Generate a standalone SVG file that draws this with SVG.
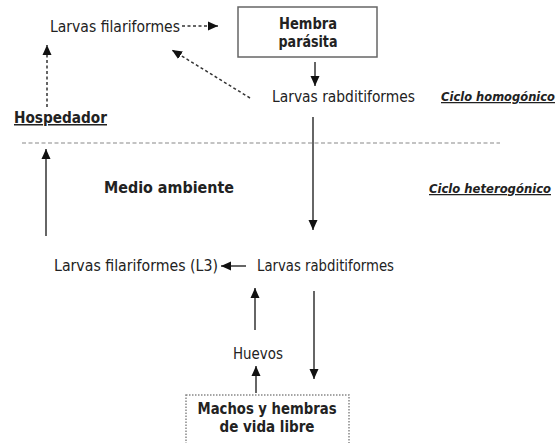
<svg xmlns="http://www.w3.org/2000/svg" width="560" height="443" viewBox="0 0 560 443">
  <style>
    .t { font-family: "DejaVu Sans Condensed", "DejaVu Sans", sans-serif; font-size: 15.5px; fill: #222; }
    .b { font-weight: bold; font-size: 15px; }
    .c { font-family: "DejaVu Sans Condensed", "DejaVu Sans", sans-serif; font-size: 12.5px; font-weight: bold; font-style: italic; fill: #222; text-decoration: underline; }
    .u { text-decoration: underline; }
    .solid { stroke: #333; stroke-width: 1.5; fill: none; }
    .dash { stroke: #333; stroke-width: 1.5; stroke-dasharray: 3 2.5; fill: none; }
    .sep { stroke: #888; stroke-width: 1.2; stroke-dasharray: 4 2.5; fill: none; }
  </style>
  <defs>
    <marker id="arrow" markerUnits="userSpaceOnUse" markerWidth="10" markerHeight="10" refX="10" refY="5" orient="auto">
      <path d="M0,0.5 L10,5 L0,9.5 z" fill="#111"/>
    </marker>
  </defs>

  <rect width="560" height="443" fill="#fff"/>

  <!-- host / environment separator -->
  <line class="sep" x1="22" y1="143" x2="500" y2="143"/>

  <!-- section labels -->
  <text class="t b u" x="14" y="123" textLength="93" lengthAdjust="spacingAndGlyphs">Hospedador</text>
  <text class="c" x="441" y="101" textLength="114" lengthAdjust="spacingAndGlyphs">Ciclo homogónico</text>
  <text class="t b" x="104" y="193" textLength="130" lengthAdjust="spacingAndGlyphs">Medio  ambiente</text>
  <text class="c" x="429" y="193" textLength="122" lengthAdjust="spacingAndGlyphs">Ciclo  heterogónico</text>

  <!-- nodes -->
  <g id="larvas-filariformes-host">
    <text class="t" x="50" y="32" textLength="130" lengthAdjust="spacingAndGlyphs">Larvas  filariformes</text>
  </g>
  <g id="hembra-parasita">
    <rect x="238" y="7" width="139" height="50" fill="#fff" stroke="#666" stroke-width="1.5"/>
    <text class="t b" x="308" y="29" text-anchor="middle" textLength="58" lengthAdjust="spacingAndGlyphs">Hembra</text>
    <text class="t b" x="308" y="47" text-anchor="middle" textLength="59" lengthAdjust="spacingAndGlyphs">parásita</text>
  </g>
  <g id="larvas-rabditiformes-host">
    <text class="t" x="272" y="102" textLength="143" lengthAdjust="spacingAndGlyphs">Larvas rabditiformes</text>
  </g>
  <g id="larvas-filariformes-l3">
    <text class="t" x="54" y="271" textLength="164" lengthAdjust="spacingAndGlyphs">Larvas filariformes  (L3)</text>
  </g>
  <g id="larvas-rabditiformes-env">
    <text class="t" x="257" y="271" textLength="137" lengthAdjust="spacingAndGlyphs">Larvas rabditiformes</text>
  </g>
  <g id="huevos">
    <text class="t" x="233" y="359" textLength="50" lengthAdjust="spacingAndGlyphs">Huevos</text>
  </g>
  <g id="machos-hembras">
    <rect x="186" y="395" width="163" height="52" fill="#fff" stroke="#888" stroke-width="1.5" stroke-dasharray="1.5 1.5"/>
    <text class="t b" x="267" y="414" text-anchor="middle" textLength="139" lengthAdjust="spacingAndGlyphs">Machos y hembras</text>
    <text class="t b" x="267" y="432" text-anchor="middle" textLength="95" lengthAdjust="spacingAndGlyphs">de  vida libre</text>
  </g>

  <!-- connectors -->
  <g id="connectors">
    <line class="dash" x1="182" y1="26" x2="218" y2="26" marker-end="url(#arrow)"/>
    <line class="dash" x1="250" y1="98" x2="172" y2="50" marker-end="url(#arrow)"/>
    <line class="dash" x1="47" y1="107" x2="47" y2="45" marker-end="url(#arrow)"/>
    <line class="solid" x1="315" y1="62" x2="315" y2="86" marker-end="url(#arrow)"/>
    <line class="solid" x1="313" y1="117" x2="313" y2="230" marker-end="url(#arrow)"/>
    <line class="solid" x1="46" y1="236" x2="46" y2="149" marker-end="url(#arrow)"/>
    <line class="solid" x1="246" y1="266" x2="221" y2="266" marker-end="url(#arrow)"/>
    <line class="solid" x1="255" y1="330" x2="255" y2="288" marker-end="url(#arrow)"/>
    <line class="solid" x1="314" y1="291" x2="314" y2="379" marker-end="url(#arrow)"/>
    <line class="solid" x1="256" y1="393" x2="256" y2="366" marker-end="url(#arrow)"/>
  </g>
</svg>
